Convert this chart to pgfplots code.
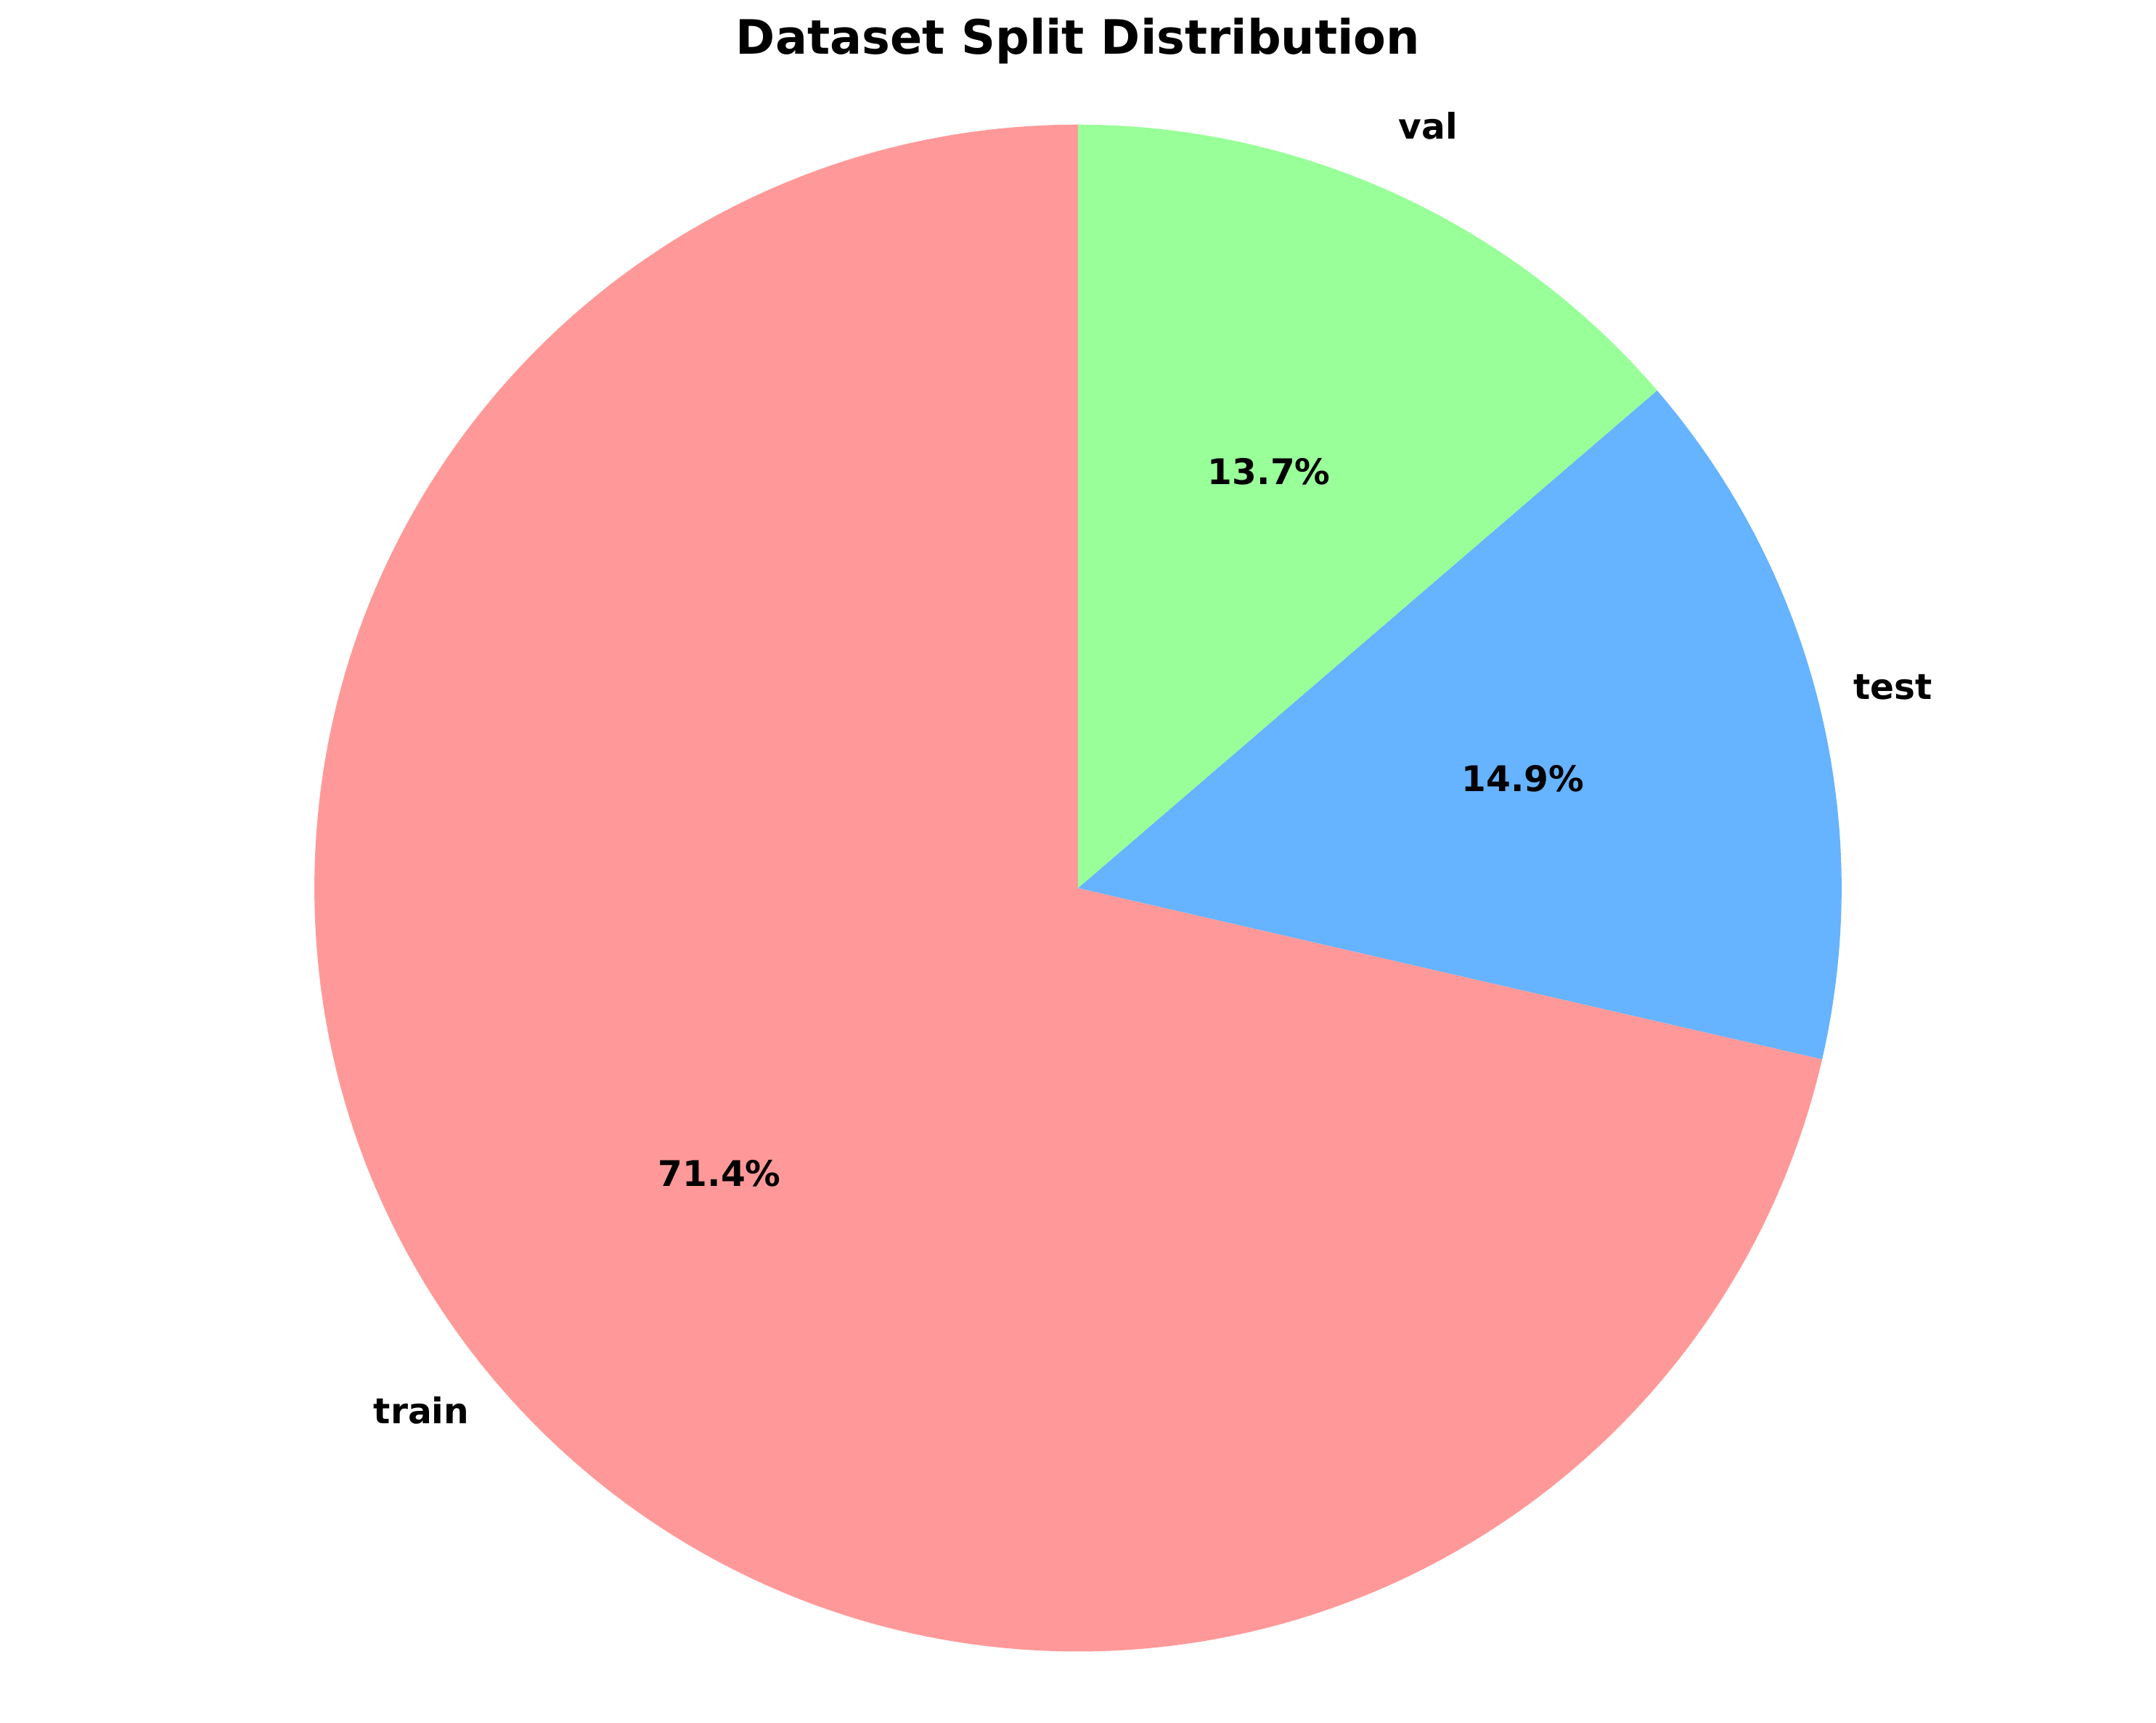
\documentclass[border=0pt]{standalone}
\usepackage{pgfplots}
\pgfplotsset{compat=1.18}
\usetikzlibrary{calc}
\usepackage{fontspec}
\setmainfont{DejaVu Sans}
\definecolor{ctrain}{HTML}{FF9999}
\definecolor{ctest}{HTML}{66B3FF}
\definecolor{cval}{HTML}{99FF99}
\begin{document}
\begin{tikzpicture}
\begin{axis}[x=0.01cm,y=0.01cm,xmin=0,xmax=1568,ymin=0,ymax=1253,hide axis,scale only axis,clip=false]
\path (rel axis cs:0,0) rectangle (rel axis cs:1,1);
\def\R{5.55cm}
\def\cx{784}\def\cy{607}
% percentages
\def\ptrain{71.4}\def\ptest{14.9}\def\pval{13.7}
\pgfmathsetmacro\aA{90}
\pgfmathsetmacro\aB{90+3.6*\ptrain}
\pgfmathsetmacro\aC{\aB+3.6*\ptest}
\pgfmathsetmacro\aD{\aC+3.6*\pval}
\fill[ctrain] (axis cs:\cx,\cy) -- ++(\aA:\R) arc[start angle=\aA,end angle=\aB,radius=\R] -- cycle;
\fill[ctest] (axis cs:\cx,\cy) -- ++(\aB:\R) arc[start angle=\aB,end angle=\aC,radius=\R] -- cycle;
\fill[cval] (axis cs:\cx,\cy) -- ++(\aC:\R) arc[start angle=\aC,end angle=\aD,radius=\R] -- cycle;
\pgfmathsetmacro\mA{(\aA+\aB)/2}
\pgfmathsetmacro\mB{(\aB+\aC)/2}
\pgfmathsetmacro\mC{(\aC+\aD)/2}
\tikzset{lab/.style={font=\fontsize{7.3}{8}\selectfont\bfseries,inner sep=0pt}}
\node[lab] at ($(axis cs:\cx,\cy)+(\mA:6.1cm)$) {train};
\node[lab] at ($(axis cs:\cx,\cy)+(\mB:6.1cm)$) {test};
\node[lab] at ($(axis cs:\cx,\cy)+(\mC:6.1cm)$) {val};
\node[lab] at ($(axis cs:\cx,\cy)+(\mA:3.33cm)$) {71.4\%};
\node[lab] at ($(axis cs:\cx,\cy)+(\mB:3.33cm)$) {14.9\%};
\node[lab] at ($(axis cs:\cx,\cy)+(\mC:3.33cm)$) {13.7\%};
\node[font=\fontsize{9.8}{11}\selectfont\bfseries,inner sep=0pt] at (axis cs:784,1223) {Dataset Split Distribution};
\end{axis}
\end{tikzpicture}
\end{document}
